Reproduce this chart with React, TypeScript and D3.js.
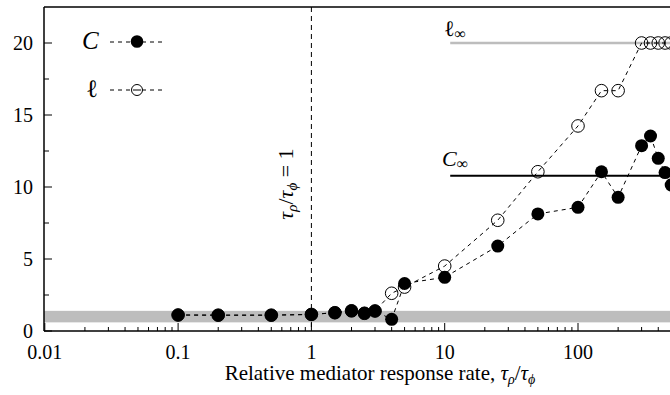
import * as d3 from "d3"

const WIDTH = 670
const HEIGHT = 395

// relative mediator response rate tau_rho / tau_phi
const rates = [0.1, 0.2, 0.5, 1, 1.5, 2, 2.5, 3, 4, 5, 10, 25, 50, 100, 150, 200, 300, 350, 400, 450, 500]
// C series (filled)
const cValues = [1.11, 1.1, 1.1, 1.15, 1.27, 1.4, 1.23, 1.39, 0.81, 3.3, 3.73, 5.9, 8.13, 8.59, 11.06, 9.28, 12.87, 13.54, 11.99, 11.0, 10.14]
// l series (open)
const lValues = [1.11, 1.1, 1.1, 1.15, 1.27, 1.4, 1.23, 1.39, 2.62, 3.05, 4.51, 7.69, 11.06, 14.24, 16.69, 16.69, 20, 20, 20, 20, 20]

const xTickValues = [0.01, 0.1, 1, 10, 100]
const xTickLabels = ["0.01", "0.1", "1", "10", "100"]
const yTickValues = [0, 5, 10, 15, 20]

const cInfinity = 10.78
const lInfinity = 20
const asymptoteStart = 11
const bandLow = 0.6
const bandHigh = 1.4

const FONT = "'Liberation Serif', 'DejaVu Serif', serif"

export default function App() {
  const left = 44.8
  const decade = 133.3
  const x = d3.scaleLog().domain([0.01, 1000]).range([left, left + 5 * decade])
  const y = d3.scaleLinear().domain([0, 22.5]).range([331, 7])
  const x0 = 44
  const xEnd = WIDTH

  const cPoints = rates.map((r, i) => [r, cValues[i]] as [number, number])
  const lPoints = rates.map((r, i) => [r, lValues[i]] as [number, number])
  const line = d3
    .line<[number, number]>()
    .x((d) => x(d[0]))
    .y((d) => y(d[1]))

  const minorX: number[] = []
  for (let p = -2; p < 3; p++) {
    for (let k = 2; k < 10; k++) minorX.push(k * Math.pow(10, p))
  }
  const minorY = d3.range(2.5, 22.5, 5)

  return (
    <svg
      width={WIDTH}
      height={HEIGHT}
      style={{ position: "absolute", left: 0, top: 0, background: "white" }}
      fontFamily={FONT}
    >
      <defs>
        <clipPath id="plot">
          <rect x={x0} y={7} width={xEnd - x0} height={324} />
        </clipPath>
      </defs>

      {/* shaded band */}
      <rect
        x={x0}
        y={y(bandHigh)}
        width={xEnd - x0}
        height={y(bandLow) - y(bandHigh)}
        fill="#bdbdbd"
      />

      {/* vertical reference line */}
      <line x1={x(1)} x2={x(1)} y1={7} y2={331} stroke="black" strokeWidth={1} strokeDasharray="5,4" />
      <text
        transform={`translate(${x(1) - 18},184) rotate(-90)`}
        textAnchor="middle"
        fontSize={22}
        fontStyle="italic"
      >
        τ<tspan fontSize={15} dy={4}>ρ</tspan>
        <tspan dy={-4} fontStyle="normal">/</tspan>
        <tspan>τ</tspan>
        <tspan fontSize={15} dy={4}>ϕ</tspan>
        <tspan dy={-4} fontStyle="normal"> = 1</tspan>
      </text>

      {/* asymptotes */}
      <line x1={x(asymptoteStart)} x2={xEnd} y1={y(lInfinity)} y2={y(lInfinity)} stroke="#bdbdbd" strokeWidth={2.5} />
      <line x1={x(asymptoteStart)} x2={xEnd} y1={y(cInfinity)} y2={y(cInfinity)} stroke="black" strokeWidth={2} />
      <text x={444} y={36} fontSize={22}>
        ℓ<tspan fontSize={16} dy={3}>∞</tspan>
      </text>
      <text x={442} y={166} fontSize={22} fontStyle="italic">
        C<tspan fontSize={16} dy={3} fontStyle="normal">∞</tspan>
      </text>

      <g clipPath="url(#plot)">
        <path d={line(lPoints) ?? ""} fill="none" stroke="black" strokeWidth={1} strokeDasharray="4,4" />
        <path d={line(cPoints) ?? ""} fill="none" stroke="black" strokeWidth={1} strokeDasharray="4,4" />
        {lPoints.map((d, i) => (
          <circle key={`l${i}`} cx={x(d[0])} cy={y(d[1])} r={6.3} fill="none" stroke="black" strokeWidth={1} />
        ))}
        {cPoints.map((d, i) => (
          <circle key={`c${i}`} cx={x(d[0])} cy={y(d[1])} r={6.5} fill="black" />
        ))}
      </g>

      {/* legend */}
      <text x={82} y={49} fontSize={25} fontStyle="italic">C</text>
      <line x1={110} x2={163} y1={42} y2={42} stroke="black" strokeWidth={1} strokeDasharray="4,4" />
      <circle cx={137} cy={41.5} r={6.3} fill="black" />
      <text x={86} y={97} fontSize={25}>ℓ</text>
      <line x1={110} x2={163} y1={90} y2={90} stroke="black" strokeWidth={1} strokeDasharray="4,4" />
      <circle cx={137} cy={90} r={5.5} fill="white" stroke="black" strokeWidth={1} />
      <line x1={133} x2={141} y1={90} y2={90} stroke="black" strokeWidth={1} />

      {/* frame */}
      <line x1={x0} x2={xEnd} y1={7} y2={7} stroke="black" strokeWidth={1.5} />
      <line x1={x0} x2={x0} y1={7} y2={331} stroke="black" strokeWidth={1.5} />
      <line x1={x0} x2={xEnd} y1={331} y2={331} stroke="black" strokeWidth={1.5} />

      {/* x ticks */}
      {xTickValues.map((v, i) => (
        <g key={`xt${i}`}>
          <line x1={x(v)} x2={x(v)} y1={331} y2={323} stroke="black" strokeWidth={1} />
          <text x={x(v)} y={359} textAnchor="middle" fontSize={20}>{xTickLabels[i]}</text>
        </g>
      ))}
      {minorX
        .filter((v) => x(v) < xEnd)
        .map((v, i) => (
          <line key={`xm${i}`} x1={x(v)} x2={x(v)} y1={331} y2={327} stroke="black" strokeWidth={1} />
        ))}

      {/* y ticks */}
      {yTickValues.map((v) => (
        <g key={`yt${v}`}>
          <line x1={x0} x2={x0 + 8} y1={y(v)} y2={y(v)} stroke="black" strokeWidth={1} />
          <text x={33} y={y(v) + 7} textAnchor="end" fontSize={20}>{v}</text>
        </g>
      ))}
      {minorY.map((v) => (
        <line key={`ym${v}`} x1={x0} x2={x0 + 5} y1={y(v)} y2={y(v)} stroke="black" strokeWidth={1} />
      ))}

      {/* x axis title */}
      <text x={380} y={380} textAnchor="middle" fontSize={21}>
        Relative mediator response rate,{" "}
        <tspan fontStyle="italic">τ</tspan>
        <tspan fontStyle="italic" fontSize={14} dy={4}>ρ</tspan>
        <tspan dy={-4}>/</tspan>
        <tspan fontStyle="italic">τ</tspan>
        <tspan fontStyle="italic" fontSize={14} dy={4}>ϕ</tspan>
      </text>
    </svg>
  )
}
